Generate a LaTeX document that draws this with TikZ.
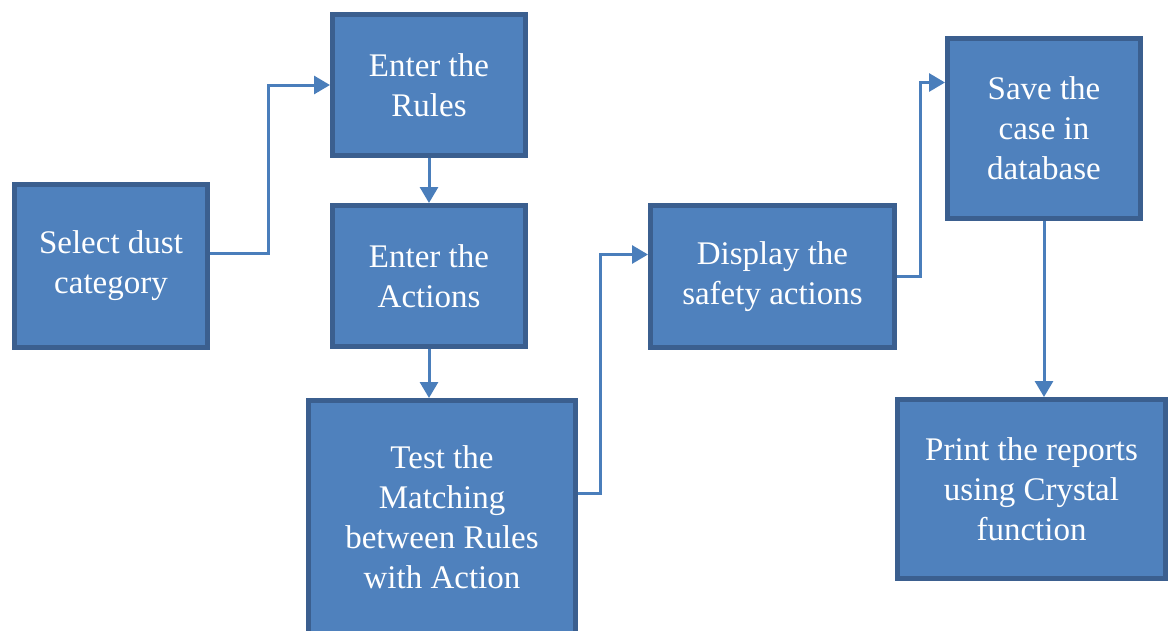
\documentclass[tikz,border=0pt]{standalone}
\usepackage{fontspec}
\setmainfont{Liberation Serif}
\usepackage{xcolor}
\usetikzlibrary{calc}
\usetikzlibrary{arrows.meta, positioning}
\definecolor{boxfill}{HTML}{4F81BD}
\definecolor{boxline}{HTML}{3B5F8F}
\definecolor{linkcol}{HTML}{4A7EBB}

\begin{document}
\begin{tikzpicture}[x=1pt, y=-1pt,
	every node/.style={draw=boxline, line width=5pt, fill=boxfill, text=white, align=center, inner sep=0pt,
		font=\fontsize{33}{40}\selectfont},
	link/.style={draw=linkcol, line width=3pt, -{Triangle[length=16pt, width=18pt]}}]
		\useasboundingbox (0,0) rectangle (1175,630);
		\node[rectangle, minimum width=193, minimum height=163] at (111,266) (dust) {Select dust\\category};
		\node[rectangle, minimum width=193, minimum height=141] at (429,85) (rules) {Enter the\\Rules};
		\node[rectangle, minimum width=193, minimum height=141] at (429,276) (actions) {Enter the\\Actions};
		\node[rectangle, minimum width=267, minimum height=233] at (442,517) (test) {Test the\\Matching\\between Rules\\with Action};
		\node[rectangle, minimum width=244, minimum height=142] at (772.5,276.5) (display) {Display the\\safety actions};
		\node[rectangle, minimum width=193, minimum height=180] at (1044,128.5) (save) {Save the\\case in\\database};
		\node[rectangle, minimum width=268, minimum height=179] at (1031.5,489) (print) {Print the reports\\using Crystal\\function};
		
		\draw[link] ([yshift=13pt]dust.east) -- ++(58,0) |- (rules.west);
		\draw[link] (rules.south) -- (actions.north);
		\draw[link] (actions.south) -- (actions.south |- test.north);
		\draw[link] ([yshift=24pt]test.east) -- ++(22,0) |- ([yshift=22pt]display.west);
		\draw[link] (display.east) -- ++(23,0) |- ([yshift=46pt]save.west);
		\draw[link] (save.south) -- (save.south |- print.north);
	\end{tikzpicture}
\end{document}
